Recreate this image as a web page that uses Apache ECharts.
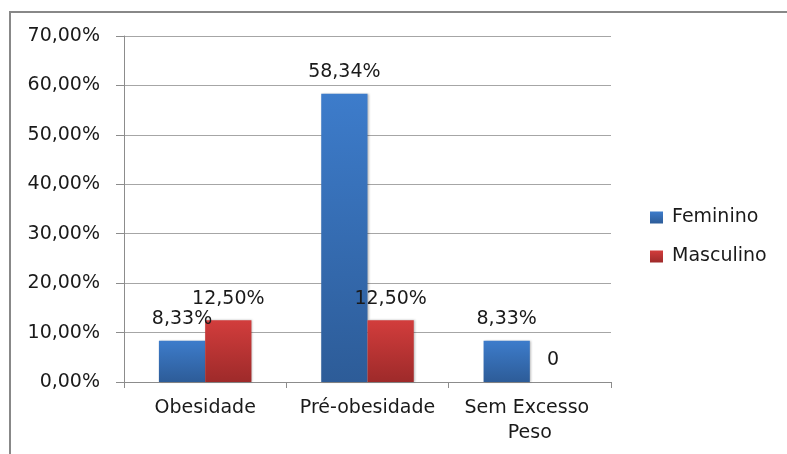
<!DOCTYPE html>
<html>
<head>
<meta charset="utf-8">
<script src="https://cdn.jsdelivr.net/npm/echarts@6/dist/echarts.min.js"></script>
<style>
  html, body { margin: 0; padding: 0; background: #fff; overflow: hidden; width: 787px; height: 454px; }
  #frame {
    position: absolute; left: 9px; top: 11px; width: 1000px; height: 600px;
    border-left: 2px solid #888; border-top: 2px solid #888;
  }
  #chart { position: absolute; left: 0; top: 0; width: 787px; height: 454px; }
</style>
</head>
<body>
<div id="frame"></div>
<div id="chart"></div>
<script>
const categories = ['Obesidade', 'Pré-obesidade', 'Sem Excesso Peso'];
const feminino = [8.33, 58.34, 8.33];
const masculino = [12.5, 12.5, 0];
const yTicks = {min: 0, max: 70, interval: 10};

const font = "'DejaVu Sans', sans-serif";
const ink = '#1a1a1a';

const pct = v => v.toFixed(2).replace('.', ',') + '%';
const barLabel = p => (p.value === 0 ? '0' : pct(p.value));

const grad = (top, bottom) => new echarts.graphic.LinearGradient(0, 0, 0, 1, [
  {offset: 0, color: top},
  {offset: 1, color: bottom},
]);

const labelStyle = {
  show: true,
  position: 'top',
  distance: 12,
  formatter: barLabel,
  color: ink,
  fontSize: 19,
  fontFamily: font,
};

const chart = echarts.init(document.getElementById('chart'));
chart.setOption({
  animation: false,
  grid: {left: 124, right: 176, top: 36, bottom: 72},
  legend: {
    orient: 'vertical',
    left: 650,
    top: 208,
    padding: 0,
    icon: 'rect',
    itemWidth: 13,
    itemHeight: 12,
    itemGap: 20,
    textStyle: {color: ink, fontSize: 19, fontFamily: font, padding: [0, 0, 0, 4]},
    data: ['Feminino', 'Masculino'],
  },
  xAxis: {
    type: 'category',
    data: categories,
    axisLine: {lineStyle: {color: '#8c8c8c', width: 1}},
    axisTick: {show: true, length: 6, lineStyle: {color: '#8c8c8c'}},
    axisLabel: {
      interval: 0,
      color: ink, fontSize: 19, fontFamily: font, margin: 14,
      width: 150, overflow: 'break', lineHeight: 25,
    },
  },
  yAxis: {
    type: 'value',
    min: yTicks.min,
    max: yTicks.max,
    interval: yTicks.interval,
    axisLine: {show: true, lineStyle: {color: '#8c8c8c', width: 1}},
    axisTick: {show: true, length: 8, lineStyle: {color: '#8c8c8c'}},
    splitLine: {lineStyle: {color: '#a6a6a6', width: 1}},
    axisLabel: {color: ink, fontSize: 19, fontFamily: font, margin: 24, formatter: pct},
  },
  series: [
    {
      name: 'Feminino',
      type: 'bar',
      data: feminino,
      barGap: 0,
      barCategoryGap: '43%',
      itemStyle: {color: grad('#3d7ccb', '#2d5c98'), shadowColor: 'rgba(0,0,0,0.25)', shadowBlur: 2, shadowOffsetX: 1},
      label: labelStyle,
    },
    {
      name: 'Masculino',
      type: 'bar',
      data: masculino,
      itemStyle: {color: grad('#d23d3c', '#9e2a2a'), shadowColor: 'rgba(0,0,0,0.25)', shadowBlur: 2, shadowOffsetX: 1},
      label: labelStyle,
    },
  ],
});
</script>
</body>
</html>
